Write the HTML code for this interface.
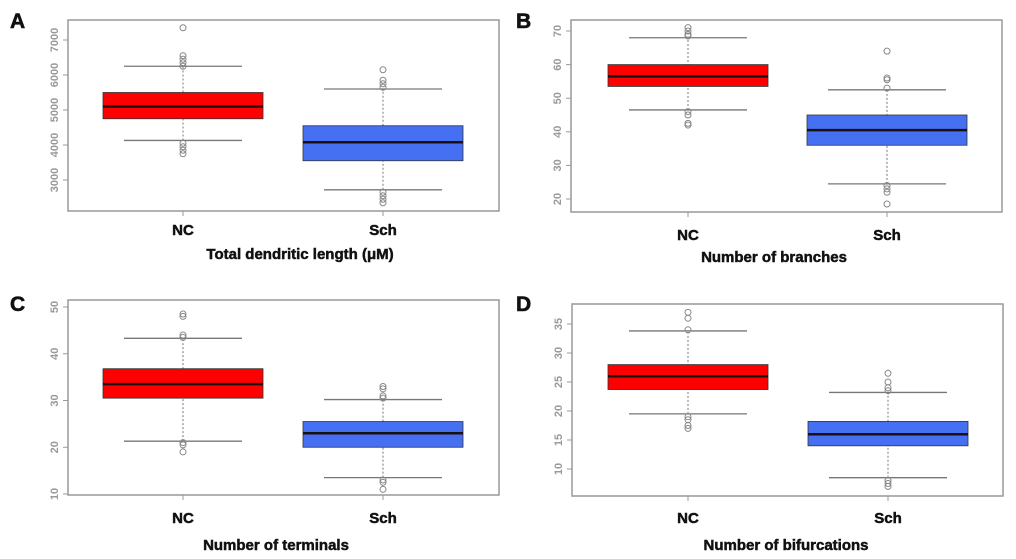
<!DOCTYPE html>
<html><head><meta charset="utf-8"><style>
html,body{margin:0;padding:0;background:#fff;}
svg{display:block;font-family:"Liberation Sans",sans-serif;}
</style></head><body>
<svg id="fig" width="1016" height="559" viewBox="0 0 1016 559"></svg>
<script>
// data: [lowerWhisker, q1, median, q3, upperWhisker]
const categories = ["NC", "Sch"];
const aNC = [4130, 4750, 5100, 5500, 6250];
const aSch = [2720, 3550, 4080, 4550, 5600];
const aNCOut = [7350, 6550, 6450, 6350, 6250, 4050, 3950, 3850, 3750];
const aSchOut = [6150, 5850, 5750, 5650, 2650, 2550, 2450, 2350];
const aTicks = [3000, 4000, 5000, 6000, 7000];
const bNC = [46.5, 53.5, 56.5, 60, 68];
const bSch = [24.5, 36, 40.5, 45, 52.5];
const bNCOut = [71, 70, 69, 68.5, 46, 45, 42.5, 42];
const bSchOut = [64, 56, 55.5, 53, 24, 23, 22, 18.5];
const bTicks = [20, 30, 40, 50, 60, 70];
const cNC = [21.3, 30.5, 33.5, 36.8, 43.3];
const cSch = [13.5, 20, 23, 25.5, 30.2];
const cNCOut = [48.5, 48, 44, 43.5, 21, 20.5, 19];
const cSchOut = [33, 32.5, 31, 30.5, 13, 12.5, 11];
const cTicks = [10, 20, 30, 40, 50];
const dNC = [19.5, 23.7, 26, 28, 33.8];
const dSch = [8.5, 14, 16, 18.2, 23.2];
const dNCOut = [37, 36, 34, 19, 18.5, 17.5, 17];
const dSchOut = [26.5, 25, 24, 23.5, 8, 7.5, 7];
const dTicks = [10, 15, 20, 25, 30, 35];

const NS = "http://www.w3.org/2000/svg";
const svg = document.getElementById('fig');
function mk(tag, attrs, parent, text) {
  const e = document.createElementNS(NS, tag);
  for (const k in attrs) e.setAttribute(k, attrs[k]);
  if (text !== undefined) e.textContent = text;
  (parent || svg).appendChild(e);
  return e;
}

const panels = [
  {id:'a', letter:'A', lx:10, ly:28, x0:68, x1:499, y0:20, y1:211, v0:7000, p0:40, v1:3000, p1:180, c:[183,383],
   stats:[aNC,aSch], outs:[aNCOut,aSchOut], ticks:aTicks, catY:235, title:'Total dendritic length (μM)', titleY:259, tx:300},
  {id:'b', letter:'B', lx:516, ly:28, x0:571, x1:1002, y0:20, y1:212, v0:70, p0:31, v1:20, p1:199, c:[688,887],
   stats:[bNC,bSch], outs:[bNCOut,bSchOut], ticks:bTicks, catY:240, title:'Number of branches', titleY:262, tx:774},
  {id:'c', letter:'C', lx:10, ly:311, x0:68, x1:499, y0:300, y1:495, v0:50, p0:307, v1:10, p1:494, c:[183,383],
   stats:[cNC,cSch], outs:[cNCOut,cSchOut], ticks:cTicks, catY:523, title:'Number of terminals', titleY:550, tx:276},
  {id:'d', letter:'D', lx:516, ly:311, x0:572, x1:1003, y0:304, y1:496, v0:35, p0:324, v1:10, p1:469, c:[688,888],
   stats:[dNC,dSch], outs:[dNCOut,dSchOut], ticks:dTicks, catY:523, title:'Number of bifurcations', titleY:550, tx:786}
];
const fills = ['#ff0000', '#4670f2'];

panels.forEach(p => {
  const g = mk('g', {});
  
  
  const y = v => p.p0 + (v - p.v0) * (p.p1 - p.p0) / (p.v1 - p.v0);
  const lt = mk('text', {x:p.lx, y:p.ly, 'font-size':21, 'font-weight':'bold', fill:'#111', stroke:'#111', 'stroke-width':0.6}, g, p.letter);
  
  
  const fr = mk('rect', {x:p.x0, y:p.y0, width:p.x1-p.x0, height:p.y1-p.y0, fill:'none', stroke:'#999', 'stroke-width':1.5}, g);
  
  
  p.ticks.forEach(t => {
    const ty = y(t);
    mk('line', {x1:p.x0-5, x2:p.x0, y1:ty, y2:ty, stroke:'#999'}, g);
    const tl = mk('text', {x:0, y:0, transform:`translate(${p.x0-10},${ty}) rotate(-90)`, 'text-anchor':'middle', 'font-size':11, 'font-weight':'bold', fill:'#999'}, g, String(t));
    
    
  });
  categories.forEach((cat, i) => {
    const cx = p.c[i], s = p.stats[i], hw = 80, ww = 59;
    mk('line', {x1:cx, x2:cx, y1:p.y1, y2:p.y1+5, stroke:'#999'}, g);
    const cl = mk('text', {x:cx, y:p.catY, 'text-anchor':'middle', 'font-size':15, 'font-weight':'bold', fill:'#111', stroke:'#111', 'stroke-width':0.5}, g, cat);
    
    
    mk('line', {x1:cx, x2:cx, y1:y(s[0]), y2:y(s[4]), stroke:'#777', 'stroke-dasharray':'2,2'}, g);
    const wl = mk('line', {x1:cx-ww, x2:cx+ww, y1:y(s[0]), y2:y(s[0]), stroke:'#777', 'stroke-width':1.3}, g);
    
    
    const wu = mk('line', {x1:cx-ww, x2:cx+ww, y1:y(s[4]), y2:y(s[4]), stroke:'#777', 'stroke-width':1.3}, g);
    
    
    const bx = mk('rect', {x:cx-hw, y:y(s[3]), width:hw*2, height:y(s[1])-y(s[3]), fill:fills[i], stroke:'#333', 'stroke-width':0.8}, g);
    
    
    const md = mk('line', {x1:cx-hw, x2:cx+hw, y1:y(s[2]), y2:y(s[2]), stroke:'#1a1010', 'stroke-width':2.5}, g);
    
    
    p.outs[i].forEach(o => {
      const oc = mk('circle', {cx:cx, cy:y(o), r:3, fill:'none', stroke:'#888', 'stroke-width':1}, g);
      
      
    });
  });
  const tt = mk('text', {x:p.tx, y:p.titleY, 'text-anchor':'middle', 'font-size':15, 'font-weight':'bold', fill:'#111', stroke:'#111', 'stroke-width':0.5}, g, p.title);
  
  
});
</script>
</body></html>
